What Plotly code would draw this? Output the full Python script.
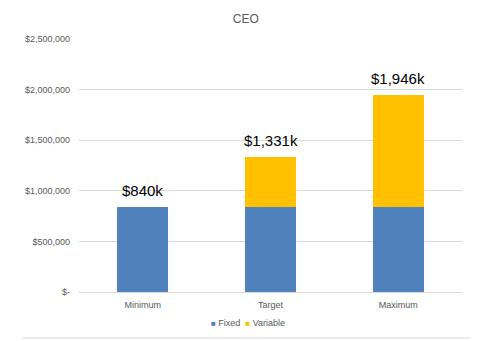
import plotly.graph_objects as go

categories = ["Minimum", "Target", "Maximum"]
fixed = [840000, 840000, 840000]
variable = [0, 491000, 1106000]
total_labels = ["$840k", "$1,331k", "$1,946k"]
series_names = ["Fixed", "Variable"]
series_colors = ["#4F81BD", "#FFC000"]
y_tickvals = [0, 500000, 1000000, 1500000, 2000000, 2500000]
y_ticktext = ["$-", "$500,000", "$1,000,000", "$1,500,000", "$2,000,000", "$2,500,000"]

totals = [f + v for f, v in zip(fixed, variable)]

fig = go.Figure()
for name, vals, col in zip(series_names, [fixed, variable], series_colors):
    fig.add_trace(go.Bar(name=name, x=categories, y=vals, marker_color=col,
                         marker_line_width=0, showlegend=False))

for c, t, lab in zip(categories, totals, total_labels):
    fig.add_annotation(x=c, y=t, text=lab, showarrow=False, yanchor="bottom", yshift=6,
                       font=dict(family="Liberation Sans", size=15, color="#000000"))

# legend drawn as text
legend_text = "&nbsp;&nbsp;".join(
    f"<span style='color:{col}; font-size:8px'>■</span> {name}"
    for name, col in zip(series_names, series_colors))
fig.add_annotation(xref="paper", yref="paper", x=0.44, y=-0.122, text=legend_text,
                   showarrow=False, xanchor="center", yanchor="middle",
                   font=dict(family="Liberation Sans", size=9, color="#595959"))

fig.add_shape(type="line", xref="paper", yref="paper", x0=-0.149, x1=1.02, y0=-0.182, y1=-0.182,
              line=dict(color="#D9D9D9", width=1))

fig.update_layout(
    barmode="stack",
    bargap=0.6,
    width=484, height=341,
    margin=dict(l=79, r=22, t=39, b=49, autoexpand=False),
    paper_bgcolor="white", plot_bgcolor="white",
    title=dict(text="CEO", x=0.508, xanchor="center", y=0.945, yanchor="middle",
               font=dict(family="Liberation Sans", size=12, color="#595959")),
    font=dict(family="Liberation Sans", color="#595959", size=9),
    showlegend=False,
    xaxis=dict(showgrid=False, showline=True, linecolor="#D9D9D9", ticks="",
               ticklabelstandoff=4, tickfont=dict(size=9, color="#595959")),
    yaxis=dict(range=[0, 2500000], tickvals=y_tickvals, ticktext=y_ticktext,
               showgrid=True, gridcolor="#D9D9D9", zeroline=False, showline=False,
               ticks="", ticklabelstandoff=8, tickfont=dict(size=9, color="#595959")),
)

fig.write_html("out.html")
